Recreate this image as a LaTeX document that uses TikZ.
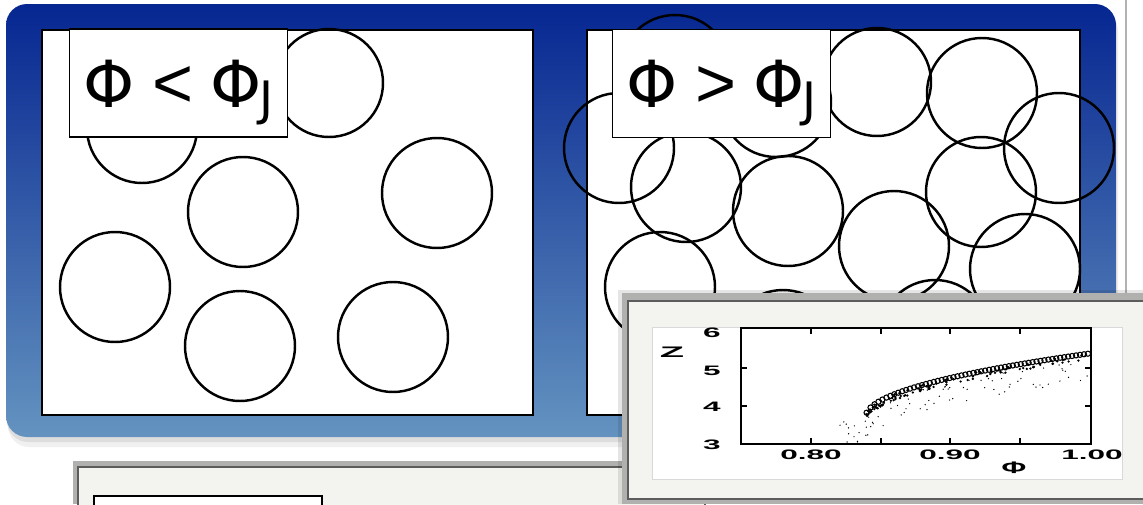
\documentclass[tikz,border=0pt]{standalone}
\usepackage{fontspec}
\usepackage{graphicx}
\setmainfont{DejaVu Sans}
\newfontfamily\plotfont{Liberation Sans}
\newfontfamily\relfont{Liberation Sans}
\usetikzlibrary{positioning}
\definecolor{slidetop}{RGB}{6,38,145}
\definecolor{slidemid}{RGB}{36,72,162}
\definecolor{slidebot}{RGB}{100,147,192}
\definecolor{framegray}{RGB}{176,176,174}
\definecolor{frameedge}{RGB}{92,92,92}
\definecolor{paper}{RGB}{243,243,240}
\newcommand{\plotlbl}[1]{\scalebox{2.3}[1]{#1}}
\newcommand{\jamsub}{\hspace{-0.04em}\raisebox{-5pt}{\fontsize{27}{27}\selectfont J}}

\begin{document}
\begin{tikzpicture}[x=0.02cm, y=-0.02cm,
    ball/.style={line width=1.4pt},
    phaselbl/.style={draw, fill=white, line width=0.8pt, inner sep=0pt,
        minimum width=4.36cm, minimum height=2.16cm,
        text height=27.5pt, text depth=0pt, font=\fontsize{37}{37}\selectfont},
    ticklbl/.style={font=\plotfont\bfseries\fontsize{7.8}{8}\selectfont, inner sep=0pt}]

\useasboundingbox (0,0) rectangle (1143,504);
\fill[white] (0,0) rectangle (1143,504);

% slide behind, on the right
\draw[gray!60, line width=0.6pt] (1126,0) -- (1126,293);

% blue slide with its shadow
\fill[black, opacity=0.06, rounded corners=12] (8,10) rectangle (1118,447);
\fill[black, opacity=0.08, rounded corners=12] (7,7) rectangle (1117,442);
\shade[rounded corners=12, top color=slidetop, middle color=slidemid, bottom color=slidebot]
    (6,4) rectangle (1116,437);

% left box: phi below jamming
\draw[fill=white, line width=0.9pt] (42,30) rectangle (533,415);
\draw[ball] (142,128) circle (55);
\draw[ball] (329,83) circle (54);
\draw[ball] (243,212) circle (55);
\draw[ball] (437,193) circle (55);
\draw[ball] (115,287) circle (55);
\draw[ball] (240,346) circle (55);
\draw[ball] (393,337) circle (55);
\node[phaselbl] (lessLbl) at (178.5,83)
    {Φ\hspace{0.27em}{\relfont\fontsize{40}{40}\selectfont<}\hspace{0.27em}Φ\jamsub};

% right box: phi above jamming
\draw[fill=white, line width=0.9pt] (587,30) rectangle (1080,415);
\draw[ball] (675,70) circle (55);
\draw[ball] (776,102) circle (55);
\draw[ball] (619,148) circle (55);
\draw[ball] (686,187) circle (55);
\draw[ball] (788,211) circle (55);
\draw[ball] (877,82) circle (54);
\draw[ball] (982,93) circle (55);
\draw[ball] (1059,148) circle (55);
\draw[ball] (981,192) circle (55);
\draw[ball] (894,246) circle (55);
\draw[ball] (1025,269) circle (55);
\draw[ball] (660,287) circle (55);
\draw[ball] (783,345) circle (55);
\draw[ball] (935,335) circle (55);
\node[phaselbl] (moreLbl) at (721.5,83.5)
    {Φ\hspace{0.27em}{\relfont\fontsize{40}{40}\selectfont>}\hspace{0.27em}Φ\jamsub};

% next slide, below
\fill[framegray] (73,461) rectangle (700,504);
\draw[frameedge, fill=paper, line width=1.2pt] (78,467) rectangle (705,510);
\draw[fill=white, line width=0.8pt] (94,496) rectangle (322,510);

% inset with Z(phi)
\fill[black, opacity=0.1] (618,290) rectangle (1150,504);
\fill[framegray] (622,293) rectangle (1150,504);
\draw[frameedge, fill=paper, line width=1.4pt] (628,301) rectangle (1155,499);
\draw[gray!30, fill=white, line width=0.4pt] (652,327) rectangle (1122,479);
\draw[line width=0.7pt] (741,328) rectangle (1091,444);
\foreach \tx in {811,881,950,1020}{
    \draw[line width=0.6pt] (\tx,444) -- (\tx,438);
    \draw[line width=0.6pt] (\tx,328) -- (\tx,334);
}
\foreach \ty in {368,406}{
    \draw[line width=0.6pt] (741,\ty) -- (747,\ty);
    \draw[line width=0.6pt] (1091,\ty) -- (1085,\ty);
}
\node[ticklbl] (z6) at (712,333) {\plotlbl{6}};
\node[ticklbl] (z5) at (712,371) {\plotlbl{5}};
\node[ticklbl] (z4) at (712,407) {\plotlbl{4}};
\node[ticklbl] (z3) at (712,445) {\plotlbl{3}};
\node[ticklbl] (p80) at (811,455) {\plotlbl{0.80}};
\node[ticklbl] (p90) at (950,455) {\plotlbl{0.90}};
\node[ticklbl] (p100) at (1092,455) {\plotlbl{1.00}};
\node[ticklbl, font=\plotfont\bfseries\fontsize{8.7}{9}\selectfont] (zLbl) at (672,352)
    {\scalebox{2.6}[1]{Z}};
\node[ticklbl, font=\plotfont\bfseries\fontsize{9.5}{10}\selectfont] (phiLbl) at (1014,468)
    {\scalebox{1.8}[1]{Φ}};

% data
\pgfmathsetseed{7}
\foreach \k in {1,...,80}{
    \pgfmathsetmacro{\ph}{0.82+0.18*rnd}
    \pgfmathsetmacro{\zz}{3.70+4.1*sqrt(max(\ph-0.839,0))-0.1-0.6*rnd}
    \fill ({741+(\ph-0.75)*1400},{444-(\zz-3)*38.7}) circle (0.7);
}
\foreach \k in {1,...,110}{
    \pgfmathsetmacro{\ph}{0.8395+0.16*rnd^1.6}
    \pgfmathsetmacro{\zz}{3.70+4.1*sqrt(\ph-0.839)-0.16*rnd}
    \fill ({741+(\ph-0.75)*1400},{444-(\zz-3)*38.7}) circle (1.3);
}
\foreach \k in {0,...,56}{
    \pgfmathsetmacro{\ph}{0.8397+\k*0.00283}
    \pgfmathsetmacro{\zz}{3.70+4.1*sqrt(\ph-0.839)}
    \draw[line width=0.6pt] ({741+(\ph-0.75)*1400},{444-(\zz-3)*38.7}) circle (2.6);
}

\end{tikzpicture}
\end{document}
